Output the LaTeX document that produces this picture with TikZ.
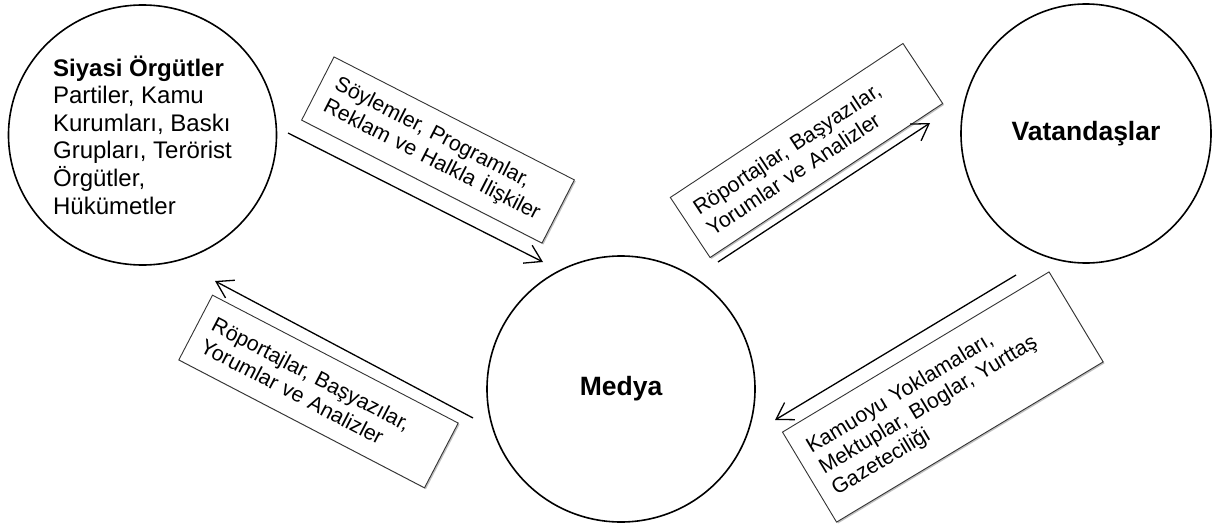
\documentclass[tikz,border=0pt]{standalone}
\usepackage{fontspec}
\setmainfont{Liberation Sans}
\usetikzlibrary{arrows.meta,shapes.geometric,shadows}

\begin{document}
\begin{tikzpicture}[x=1pt, y=-1pt,
    aktor/.style={draw, ellipse, line width=1.6pt, inner sep=0pt},
    kutu/.style={draw=black!80, fill=white, line width=0.9pt, align=left,
      inner xsep=14pt, inner ysep=0pt, font=\fontsize{21.3}{24.5}\selectfont,
      drop shadow={shadow xshift=1.4pt, shadow yshift=-1.4pt, fill=black!50}},
    akis/.style={line width=1.3pt, -{Straight Barb[length=16pt, width=20pt]}}]
    \useasboundingbox (0, 0) rectangle (1215, 527);

    \node[aktor, minimum width=268pt, minimum height=260pt, align=left,
          font=\fontsize{24}{27.6}\selectfont] (siyasi) at (142.5, 135)
          {\textbf{Siyasi Örgütler}\\Partiler, Kamu\\Kurumları, Baskı\\Grupları, Terörist\\Örgütler,\\Hükümetler};
    \node[aktor, minimum width=250pt, minimum height=259pt,
          font=\fontsize{26.5}{30}\selectfont\bfseries] (vatandas) at (1086, 133.5) {Vatandaşlar};
    \node[aktor, minimum width=268pt, minimum height=266pt,
          font=\fontsize{26.5}{30}\selectfont\bfseries] (medya) at (621, 389) {Medya};

    \node[kutu, rotate=-27.1, text width=242pt, minimum height=71pt] (soylem) at (438, 150)
          {Söylemler, Programlar,\\Reklam ve Halkla İlişkiler};
    \node[kutu, rotate=33.5, text width=251pt, minimum height=72pt] (roportajB) at (806.5, 150.5)
          {Röportajlar, Başyazılar,\\Yorumlar ve Analizler};
    \node[kutu, rotate=-27.5, text width=249pt, minimum height=73pt] (roportajA) at (318.5, 391.5)
          {Röportajlar, Başyazılar,\\Yorumlar ve Analizler};
    \node[kutu, rotate=31, text width=283pt, minimum height=105pt] (kamuoyu) at (942.8, 397)
          {Kamuoyu Yoklamaları,\\Mektuplar, Bloglar, Yurttaş\\Gazeteciliği};

    \coordinate (siyasiCikis) at (288, 133);
    \coordinate (medyaGiris) at (543, 262);
    \coordinate (medyaCikisB) at (718, 262);
    \coordinate (vatandasGiris) at (930, 123);
    \coordinate (medyaCikisA) at (473, 418);
    \coordinate (siyasiGiris) at (215, 281);
    \coordinate (vatandasCikis) at (1016, 275);
    \coordinate (medyaGirisB) at (775, 420);

    \draw[akis] (siyasiCikis) -- (medyaGiris);
    \draw[akis] (medyaCikisB) -- (vatandasGiris);
    \draw[akis] (medyaCikisA) -- (siyasiGiris);
    \draw[akis] (vatandasCikis) -- (medyaGirisB);
\end{tikzpicture}
\end{document}
